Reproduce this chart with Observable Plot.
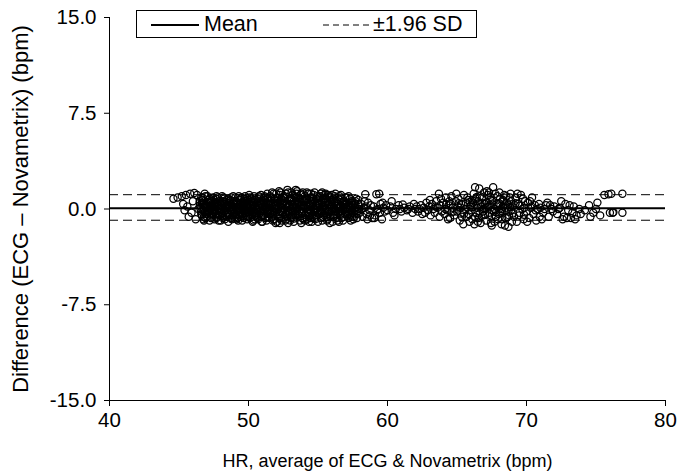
<!DOCTYPE html>
<html><head><meta charset="utf-8">
<script src="https://cdn.jsdelivr.net/npm/d3@7"></script>
<script src="https://cdn.jsdelivr.net/npm/@observablehq/plot@0.6"></script>
<style>
html,body{margin:0;padding:0;background:#fff;}
#wrap{position:relative;width:677px;height:473px;font-family:"Liberation Sans",Arial,sans-serif;color:#000;}
#legend{position:absolute;left:136px;top:10px;width:341px;height:28px;border:1px solid #000;box-sizing:border-box;background:#fff;font-size:21.5px;}
#legend .lab{position:absolute;top:1px;line-height:24px;}
#legend svg{position:absolute;top:0;left:0;}
g[aria-label="x-axis tick label"], g[aria-label="y-axis tick label"]{font-size:20.5px;}
g[aria-label="y-axis label"]{font-size:22px;}
g[aria-label="x-axis label"]{font-size:18px;}
</style></head><body><div id="wrap"><div id="legend">
<svg width="341" height="28"><line x1="14" x2="62" y1="14" y2="14" stroke="#000" stroke-width="2"/><line x1="186" x2="234" y1="14" y2="14" stroke="#000" stroke-width="1" stroke-dasharray="6,4"/></svg>
<span class="lab" style="left:67px">Mean</span><span class="lab" style="left:236px">±1.96 SD</span>
</div></div>
<script>
const xLabel = "HR, average of ECG & Novametrix (bpm)";
const yLabel = "Difference (ECG – Novametrix) (bpm)";
const xTicks = [40, 50, 60, 70, 80];
const yTicks = [-15, -7.5, 0, 7.5, 15];
const meanDiff = 0.05;
const upperLimit = 1.12;
const lowerLimit = -0.88;

const segStart = [[44.6,0.8],[44.9,0.9],[45.2,1.0],[45.5,1.1],[45.8,1.2],[46.1,1.25],[45.3,0.4],[45.6,0.2],[45.9,-0.3],[45.7,-0.6],[46.0,0.6],[46.3,1.1],[46.2,-0.8],[46.4,0.0],[45.4,-0.1],[46.5,0.5],[46.6,-0.4],[46.7,0.9],[46.8,-0.9],[46.9,0.2],
[46.5,0.3],[46.6,-0.2],[46.7,0.7],[46.8,-0.6],[46.9,1.0],[46.55,0.0],[46.65,0.5],[46.75,-0.8],[46.85,0.2],[46.95,-0.4],[46.6,0.9],[46.8,0.4],[46.7,-0.1],[46.9,-0.7],[46.5,0.6],[46.85,1.2],[46.65,-0.5],[46.95,0.1]];

const segDenseA = [[47.0,0.4],[47.1,-0.3],[47.2,0.8],[47.3,-0.7],[47.4,0.2],[47.05,1.0],[47.15,-0.1],[47.25,0.5],[47.35,-0.5],[47.45,0.9],[47.1,0.1],[47.3,0.6],[47.2,-0.9],[47.4,-0.2],[47.0,-0.6],[47.35,0.3],[47.45,-0.4],[47.15,0.7],[47.25,0.0],[47.05,0.2],
[47.5,-0.2],[47.6,0.5],[47.7,-0.7],[47.8,0.9],[47.9,0.1],[47.55,0.7],[47.65,-0.4],[47.75,0.3],[47.85,-0.9],[47.95,0.6],[47.6,-0.1],[47.8,0.4],[47.7,1.0],[47.9,-0.5],[47.5,0.2],[47.85,-0.3],[47.65,0.8],[47.95,0.0],[47.75,-0.6],[47.55,-0.8],
[48.0,0.5],[48.1,-0.4],[48.2,0.9],[48.3,-0.8],[48.4,0.2],[48.05,0.0],[48.15,0.6],[48.25,-0.2],[48.35,0.4],[48.45,-0.6],[48.1,1.0],[48.3,0.1],[48.2,-0.5],[48.4,0.7],[48.0,-0.9],[48.35,-0.1],[48.45,0.3],[48.15,-0.7],[48.25,0.8],[48.05,-0.3],
[48.5,0.2],[48.6,-0.6],[48.7,0.7],[48.8,-0.2],[48.9,0.4],[48.55,-1.0],[48.65,0.1],[48.75,0.9],[48.85,-0.5],[48.95,0.6],[48.6,0.3],[48.8,-0.8],[48.7,-0.1],[48.9,1.0],[48.5,-0.4],[48.85,0.0],[48.65,0.5],[48.95,-0.3],[48.75,-0.7],[48.55,0.8],
[49.0,-0.1],[49.1,0.6],[49.2,-0.7],[49.3,0.3],[49.4,-0.3],[49.05,0.9],[49.15,0.0],[49.25,-0.9],[49.35,0.7],[49.45,0.2],[49.1,-0.4],[49.3,1.0],[49.2,0.5],[49.4,-0.6],[49.0,0.4],[49.35,-0.2],[49.45,0.8],[49.15,-0.8],[49.25,0.1],[49.05,-0.5],
[49.5,0.3],[49.6,-0.5],[49.7,0.8],[49.8,-0.1],[49.9,0.5],[49.55,-0.9],[49.65,0.1],[49.75,1.0],[49.85,-0.6],[49.95,0.7],[49.6,0.0],[49.8,-0.3],[49.7,0.4],[49.9,-0.8],[49.5,0.9],[49.85,0.2],[49.65,-0.7],[49.95,-0.2],[49.75,0.6],[49.55,-0.4],
[50.0,0.1],[50.1,-0.7],[50.2,0.6],[50.3,-0.3],[50.4,1.0],[50.05,0.4],[50.15,-0.1],[50.25,0.8],[50.35,-0.9],[50.45,0.2],[50.1,0.9],[50.3,0.5],[50.2,-0.5],[50.4,-0.2],[50.0,-0.6],[50.35,0.7],[50.45,-0.8],[50.15,0.3],[50.25,0.0],[50.05,1.1],[50.3,-1.0],
[50.5,-0.3],[50.6,0.5],[50.7,-0.8],[50.8,0.2],[50.9,1.1],[50.55,0.0],[50.65,0.8],[50.75,-0.4],[50.85,0.6],[50.95,-1.0],[50.6,-0.1],[50.8,0.9],[50.7,0.3],[50.9,-0.6],[50.5,0.7],[50.85,-0.2],[50.65,-0.7],[50.95,0.4],[50.75,1.0],[50.55,-0.5],[50.8,0.1],
[51.0,0.2],[51.1,-0.5],[51.2,0.9],[51.3,-0.9],[51.4,0.4],[51.05,-0.2],[51.15,0.7],[51.25,0.0],[51.35,1.2],[51.45,-0.6],[51.1,0.5],[51.3,0.1],[51.2,-0.7],[51.4,0.8],[51.0,-1.0],[51.35,-0.3],[51.45,0.3],[51.15,1.0],[51.25,-0.4],[51.05,0.6],[51.3,-0.1],
[51.5,0.6],[51.6,-0.3],[51.7,1.3],[51.8,-0.8],[51.9,0.0],[51.55,1.0],[51.65,0.2],[51.75,-0.5],[51.85,0.8],[51.95,-1.1],[51.6,0.4],[51.8,1.2],[51.7,-0.1],[51.9,0.5],[51.5,-0.7],[51.85,-0.2],[51.65,0.9],[51.95,0.3],[51.75,-0.9],[51.55,-0.4],[51.8,0.1]];

const segDenseB = [[52.0,0.3],[52.1,-0.6],[52.2,1.4],[52.3,-0.2],[52.4,0.7],[52.05,-1.0],[52.15,0.5],[52.25,1.1],[52.35,-0.7],[52.45,0.1],[52.1,0.9],[52.3,0.4],[52.2,-0.4],[52.4,-0.9],[52.0,1.2],[52.35,0.8],[52.45,-0.3],[52.15,0.0],[52.25,-1.1],[52.05,0.6],[52.3,1.3],
[52.5,-0.1],[52.6,0.6],[52.7,-0.8],[52.8,1.5],[52.9,0.2],[52.55,1.0],[52.65,-0.4],[52.75,0.4],[52.85,-1.1],[52.95,0.8],[52.6,0.0],[52.8,-0.5],[52.7,1.2],[52.9,-0.2],[52.5,0.5],[52.85,1.3],[52.65,-0.9],[52.95,0.3],[52.75,-0.6],[52.55,0.9],[52.8,0.1],
[53.0,0.4],[53.1,-0.7],[53.2,1.1],[53.3,-0.3],[53.4,1.5],[53.05,0.0],[53.15,0.7],[53.25,-1.0],[53.35,0.5],[53.45,-0.5],[53.1,1.3],[53.3,0.2],[53.2,-0.1],[53.4,0.9],[53.0,-0.9],[53.35,-0.4],[53.45,1.2],[53.15,0.3],[53.25,0.6],[53.05,-0.6],[53.3,1.0],
[53.5,0.1],[53.6,-0.5],[53.7,0.8],[53.8,-1.1],[53.9,1.3],[53.55,0.5],[53.65,-0.2],[53.75,1.1],[53.85,-0.7],[53.95,0.3],[53.6,0.9],[53.8,0.0],[53.7,-0.9],[53.9,0.6],[53.5,1.4],[53.85,-0.3],[53.65,0.4],[53.95,-0.8],[53.75,0.2],[53.55,-0.4],[53.8,1.2],
[54.0,-0.2],[54.1,0.7],[54.2,-0.8],[54.3,1.2],[54.4,0.3],[54.05,1.0],[54.15,-0.5],[54.25,0.5],[54.35,-1.0],[54.45,0.9],[54.1,0.1],[54.3,-0.4],[54.2,1.3],[54.4,-0.1],[54.0,0.6],[54.35,0.4],[54.45,-0.7],[54.15,0.8],[54.25,-0.3],[54.05,-0.9],[54.3,0.0],
[54.5,0.4],[54.6,-0.6],[54.7,1.1],[54.8,-0.2],[54.9,0.8],[54.55,-1.0],[54.65,0.2],[54.75,1.3],[54.85,-0.5],[54.95,0.5],[54.6,0.9],[54.8,-0.8],[54.7,0.0],[54.9,-0.3],[54.5,1.2],[54.85,0.3],[54.65,-0.4],[54.95,1.0],[54.75,-0.7],[54.55,0.6],[54.8,0.1],
[55.0,0.2],[55.1,-0.4],[55.2,1.2],[55.3,-0.9],[55.4,0.5],[55.05,0.9],[55.15,-0.1],[55.25,0.6],[55.35,-0.6],[55.45,1.1],[55.1,0.3],[55.3,0.0],[55.2,-0.7],[55.4,-0.2],[55.0,-1.0],[55.35,0.8],[55.45,-0.5],[55.15,1.0],[55.25,-0.3],[55.05,0.4],[55.3,1.3],
[55.5,-0.3],[55.6,0.6],[55.7,-0.8],[55.8,1.0],[55.9,0.2],[55.55,1.2],[55.65,-0.5],[55.75,0.4],[55.85,-1.1],[55.95,0.7],[55.6,0.0],[55.8,-0.2],[55.7,1.1],[55.9,-0.6],[55.5,0.5],[55.85,0.9],[55.65,-0.9],[55.95,0.1],[55.75,-0.4],[55.55,0.8],
[56.0,0.3],[56.1,-0.6],[56.2,1.0],[56.3,-0.2],[56.4,0.6],[56.05,-1.0],[56.15,0.1],[56.25,1.2],[56.35,-0.7],[56.45,0.4],[56.1,0.8],[56.3,-0.4],[56.2,0.0],[56.4,-0.9],[56.0,1.1],[56.35,0.2],[56.45,-0.3],[56.15,0.5],[56.25,-0.5],[56.05,0.7],
[56.5,0.1],[56.6,-0.5],[56.7,0.8],[56.8,-0.9],[56.9,0.4],[56.55,1.0],[56.65,-0.2],[56.75,0.5],[56.85,-0.6],[56.95,0.9],[56.6,0.2],[56.8,-0.1],[56.7,-0.7],[56.9,0.6],[56.5,-1.0],[56.85,0.3],[56.65,1.1],[56.95,-0.4],[56.75,0.0],
[57.0,-0.2],[57.1,0.5],[57.2,-0.7],[57.3,0.8],[57.4,0.1],[57.05,0.9],[57.15,-0.4],[57.25,0.3],[57.35,-0.9],[57.45,0.6],[57.1,0.0],[57.3,-0.5],[57.2,1.0],[57.4,-0.3],[57.0,0.4],[57.35,0.2],[57.45,-0.6],
[57.5,0.3],[57.6,-0.6],[57.7,0.6],[57.8,-0.2],[57.9,0.4],[57.55,-0.8],[57.65,0.1],[57.75,0.8],[57.85,-0.4],[57.95,0.0],[57.6,0.5],[57.8,-0.7],[57.7,-0.1],[57.9,0.7],[57.55,0.2]];

const segDenseC = [[46.72,0.35],[46.88,-0.25],[47.02,-0.15],[47.22,0.25],[47.42,0.65],[47.62,0.15],[47.82,-0.45],[48.02,0.35],[48.22,-0.15],[48.42,-0.35],[48.62,0.65],[48.82,0.15],[49.02,-0.65],[49.22,0.35],[49.42,0.05],[49.62,0.55],[49.82,-0.55],[50.02,-0.25],[50.22,0.25],[50.42,0.55],[50.62,-0.35],[50.82,0.45],[51.02,-0.55],[51.22,0.15],[51.42,-0.25],[51.62,0.65],[51.82,-0.35],[52.02,0.05],[52.22,-0.75],[52.42,0.35],[52.62,0.85],[52.82,-0.15],[53.02,0.65],[53.22,-0.45],[53.42,0.15],[53.62,0.55],[53.82,-0.35],[54.02,0.25],[54.22,0.75],[54.42,-0.55],[54.62,0.45],[54.82,-0.05],[55.02,0.65],[55.22,-0.25],[55.42,0.15],[55.62,-0.65],[55.82,0.35],[56.02,-0.15],[56.22,0.45],[56.42,0.05],[56.62,-0.35],[56.82,0.55],[57.02,0.15],[57.22,-0.25],[57.42,0.45],[57.62,-0.35],
[46.78,-0.15],[47.08,0.55],[47.28,-0.35],[47.48,-0.05],[47.68,0.45],[47.88,0.25],[48.08,-0.55],[48.28,0.55],[48.48,0.05],[48.68,-0.45],[48.88,-0.05],[49.08,0.15],[49.28,-0.45],[49.48,0.45],[49.68,-0.25],[49.88,0.85],[50.08,-0.35],[50.28,0.35],[50.48,-0.55],[50.68,0.05],[50.88,-0.15],[51.08,0.85],[51.28,0.45],[51.48,-0.05],[51.68,-0.65],[51.88,0.25],[52.08,0.15],[52.28,0.65],[52.48,-0.45],[52.68,0.25],[52.88,-0.35],[53.08,0.85],[53.28,-0.75],[53.48,-0.15],[53.68,0.25],[53.88,0.75],[54.08,-0.45],[54.28,0.15],[54.48,-0.25],[54.68,0.65],[54.88,0.25],[55.08,-0.35],[55.28,0.45],[55.48,0.85],[55.68,-0.15],[55.88,0.55],[56.08,-0.45],[56.28,0.25],[56.48,0.75],[56.68,-0.15],[56.88,0.15],[57.08,-0.55],[57.28,0.05],[57.48,-0.15],[57.68,0.35],
[64.22,0.35],[64.62,-0.25],[65.12,0.45],[65.52,-0.35],[65.92,0.55],[66.12,0.15],[66.42,0.95],[66.62,-0.35],[66.82,0.45],[67.02,-0.45],[67.22,0.15],[67.42,0.95],[67.62,0.35],[67.82,-0.25],[68.02,0.45],[68.22,-0.15],[68.42,0.35],[68.62,-0.65],[68.82,0.15],[69.02,-0.35],[69.22,0.45],[69.52,0.25],[69.82,-0.45]];

const segMid = [[58.0,-0.3],[58.1,0.4],[58.2,-0.6],[58.3,0.1],[58.4,1.15],[58.5,-0.4],[58.6,0.5],[58.7,-0.1],[58.8,0.3],[58.9,-0.7],[58.15,0.0],[58.45,0.2],[58.75,-0.5],[59.0,0.2],[59.1,-0.5],[59.2,1.15],[59.3,0.0],[59.4,1.2],[59.45,-0.3],[59.5,0.4],[59.6,-0.8],[59.7,0.1],[59.8,-0.2],[59.9,0.3],[59.25,-0.1],[59.65,0.5],[58.55,-0.8],[58.35,0.6],[59.05,-0.7],
[60.0,-0.1],[60.2,0.2],[60.4,-0.3],[60.6,0.0],[60.8,0.3],[61.0,-0.2],[61.2,0.1],[61.4,-0.1],[61.6,0.2],[61.8,-0.3],[60.3,0.6],[60.9,0.0],[61.5,0.0],[60.5,-0.5],[61.9,0.4],[61.1,0.35],
[62.0,0.0],[62.2,-0.2],[62.4,0.3],[62.5,-0.4],[62.6,0.1],[62.8,0.5],[62.9,-0.1],[63.0,0.2],[63.1,-0.5],[63.2,0.4],[63.3,0.0],[63.4,-0.3],[63.5,0.6],[63.6,0.1],[63.7,1.2],[63.75,-0.6],[63.8,0.3],[63.9,-0.2],[62.3,0.0],[62.7,-0.3],[63.05,0.7],[63.45,0.2],[63.85,0.8],[62.1,0.2],
[64.0,0.5],[64.1,-0.4],[64.2,0.9],[64.3,-0.1],[64.4,0.3],[64.5,-0.7],[64.6,1.0],[64.7,0.1],[64.8,-0.5],[64.9,0.6],[65.0,-0.2],[65.1,0.8],[65.2,-0.9],[65.3,0.4],[65.4,-0.3],[65.5,1.1],[65.6,0.0],[65.7,-0.6],[65.8,0.7],[65.9,-1.0],[64.15,0.0],[64.45,0.6],[64.75,-0.2],[65.05,0.2],[65.35,-0.6],[65.65,0.5],[65.95,0.2],[64.35,-0.8],[64.95,1.2],[65.45,-1.2],[65.75,0.9],[65.25,0.1],[64.55,0.4],[65.85,-0.4]];

const segRight = [[66.0,0.3],[66.1,-0.8],[66.2,1.2],[66.3,1.7],[66.4,-0.3],[66.5,0.6],[66.6,1.6],[66.7,-1.1],[66.8,0.9],[66.9,-0.5],[66.05,-0.1],[66.15,0.5],[66.25,-1.2],[66.35,0.8],[66.45,0.1],[66.55,-0.7],[66.65,1.0],[66.75,0.2],[66.85,-0.2],[66.95,1.3],[66.1,0.7],[66.3,-0.6],[66.5,-1.0],[66.7,0.4],[66.9,0.0],
[67.0,0.4],[67.1,-0.9],[67.2,1.1],[67.3,-0.3],[67.4,0.7],[67.5,-1.3],[67.6,1.7],[67.7,0.0],[67.8,-0.6],[67.9,1.0],[67.05,0.1],[67.15,1.4],[67.25,-0.5],[67.35,0.3],[67.45,-1.1],[67.55,0.6],[67.65,-0.2],[67.75,1.2],[67.85,0.2],[67.95,-0.8],[67.1,0.5],[67.3,1.3],[67.5,-0.1],[67.7,-1.0],[67.9,0.4],
[68.0,-0.4],[68.1,0.8],[68.2,-1.2],[68.3,0.2],[68.4,1.1],[68.5,-0.7],[68.6,0.5],[68.7,-1.4],[68.8,0.9],[68.9,-0.1],[68.05,1.3],[68.15,0.0],[68.25,-0.8],[68.35,0.6],[68.45,-1.3],[68.55,1.0],[68.65,0.3],[68.75,-0.5],[68.85,1.2],[68.95,-1.0],[68.1,-0.3],[68.3,0.7],[68.5,0.1],[68.7,-0.2],[68.9,0.6],
[69.0,0.2],[69.1,-0.6],[69.2,0.9],[69.3,-1.0],[69.4,0.4],[69.5,-0.3],[69.6,1.1],[69.7,0.0],[69.8,-0.8],[69.9,0.6],[70.0,-0.2],[70.1,0.5],[70.2,-0.7],[70.3,0.1],[70.4,0.9],[70.5,-0.4],[70.6,0.3],[70.7,-0.9],[70.8,0.0],[70.9,0.4],[69.15,0.3],[69.45,-0.5],[69.75,0.8],[70.05,-1.0],[70.35,0.2],[70.65,-0.1],[70.95,-0.6],[69.35,1.2],[69.85,0.1],[70.25,0.6]];

const segTail = [[71.0,0.1],[71.2,-0.3],[71.4,0.3],[71.6,-0.6],[71.8,0.0],[72.0,0.2],[72.2,-0.4],[72.4,0.1],[72.6,-0.8],[72.8,0.4],[73.0,-0.1],[73.2,-0.7],[73.4,0.2],[73.6,-0.5],[73.8,0.0],[71.1,-0.8],[71.5,0.5],[71.9,-0.2],[72.3,0.0],[72.7,-0.6],[73.1,0.3],[73.5,-0.8],[73.9,-0.4],[72.9,-0.7],[73.3,-0.3],[71.3,0.0],[71.7,0.3],[72.5,0.6],
[74.2,-0.1],[74.5,0.3],[74.8,-0.3],[75.0,0.0],[75.3,-0.5],[75.6,1.1],[75.9,1.15],[76.1,1.2],[76.0,-0.3],[76.2,-0.3],[76.25,-0.25],[76.9,1.2],[76.9,-0.3],[74.6,-0.6],[75.1,0.5]];

const points = [...segStart, ...segDenseA, ...segDenseB, ...segDenseC, ...segMid, ...segRight, ...segTail]
  .map(([hr, diff]) => ({hr, diff}));

const chart = Plot.plot({
  width: 677, height: 473,
  marginLeft: 109, marginRight: 12, marginTop: 17, marginBottom: 73,
  style: {fontFamily: "'Liberation Sans', Arial, sans-serif", fontSize: "18px", background: "#fff", color: "#000", overflow: "visible"},
  x: {domain: [40, 80], ticks: xTicks, tickSize: 6, tickPadding: 6, label: xLabel, labelAnchor: "center", labelOffset: 66, labelArrow: "none"},
  y: {domain: [-15, 15], ticks: yTicks, tickFormat: d => d.toFixed(1), tickSize: 5, tickPadding: 8, label: yLabel, labelAnchor: "center", labelOffset: 97, labelArrow: "none"},
  marks: [
    Plot.ruleY([upperLimit, lowerLimit], {stroke: "#000", strokeWidth: 1, strokeDasharray: "9,5"}),
    Plot.dot(points, {x: "hr", y: "diff", r: 3.6, stroke: "#000", strokeWidth: 1.25, fill: "none"}),
    Plot.ruleY([meanDiff], {stroke: "#000", strokeWidth: 2}),
    Plot.ruleX([40], {stroke: "#000"}),
    Plot.ruleY([-15], {stroke: "#000"})
  ]
});
chart.style.position = "absolute";
chart.style.left = "0";
chart.style.top = "0";
const wrap = document.getElementById("wrap");
wrap.insertBefore(chart, wrap.firstChild);
</script></body></html>
